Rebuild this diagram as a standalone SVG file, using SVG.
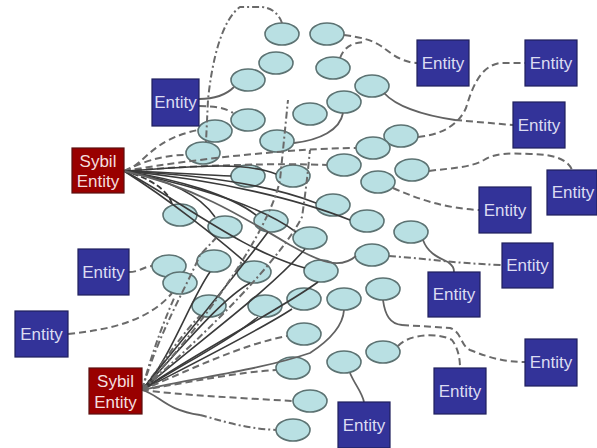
<svg xmlns="http://www.w3.org/2000/svg" width="597" height="448" viewBox="0 0 597 448">
  <style>
    .bg { fill: #ffffff; }
    .peer { fill: #b9e0e3; stroke: #5c7272; stroke-width: 1.6; }
    .ent rect { fill: #333399; stroke: #1f1f5c; stroke-width: 1.2; }
    .syb rect { fill: #990000; stroke: #5a1010; stroke-width: 1.2; }
    .ent text, .syb text { font-family: "Liberation Sans", Arial, sans-serif; font-size: 17px; text-anchor: middle; }
    .ent text { fill: #dcdcf2; }
    .syb text { fill: #f4dede; }
    #links path { fill: none; stroke-linecap: butt; }
    .d { stroke: #6a6a6a; stroke-width: 2; stroke-dasharray: 7 4; }
    .dd { stroke: #6a6a6a; stroke-width: 2; stroke-dasharray: 7 3 2 3; }
    .s { stroke: #626262; stroke-width: 1.8; }
    .k { stroke: #3a3a3a; stroke-width: 1.6; }
    .kd { stroke: #3a3a3a; stroke-width: 1.8; stroke-dasharray: 6 3; }
  </style>
  <rect class="bg" x="0" y="0" width="597" height="448"/>

  <!-- peer nodes -->
  <g id="peers">
    <g id="p1"><ellipse class="peer" cx="282" cy="34" rx="17" ry="11"/></g>
    <g id="p2"><ellipse class="peer" cx="327" cy="34" rx="17" ry="11"/></g>
    <g id="p3"><ellipse class="peer" cx="276" cy="63" rx="17" ry="11"/></g>
    <g id="p4"><ellipse class="peer" cx="333" cy="68" rx="17" ry="11"/></g>
    <g id="p5"><ellipse class="peer" cx="248" cy="80" rx="17" ry="11"/></g>
    <g id="p6"><ellipse class="peer" cx="372" cy="86" rx="17" ry="11"/></g>
    <g id="p7"><ellipse class="peer" cx="344" cy="102" rx="17" ry="11"/></g>
    <g id="p8"><ellipse class="peer" cx="310" cy="114" rx="17" ry="11"/></g>
    <g id="p9"><ellipse class="peer" cx="248" cy="120" rx="17" ry="11"/></g>
    <g id="p10"><ellipse class="peer" cx="215" cy="131" rx="17" ry="11"/></g>
    <g id="p11"><ellipse class="peer" cx="277" cy="141" rx="17" ry="11"/></g>
    <g id="p12"><ellipse class="peer" cx="203" cy="153" rx="17" ry="11"/></g>
    <g id="p13"><ellipse class="peer" cx="401" cy="136" rx="17" ry="11"/></g>
    <g id="p14"><ellipse class="peer" cx="373" cy="148" rx="17" ry="11"/></g>
    <g id="p15"><ellipse class="peer" cx="344" cy="165" rx="17" ry="11"/></g>
    <g id="p16"><ellipse class="peer" cx="412" cy="170" rx="17" ry="11"/></g>
    <g id="p17"><ellipse class="peer" cx="378" cy="182" rx="17" ry="11"/></g>
    <g id="p18"><ellipse class="peer" cx="293" cy="176" rx="17" ry="11"/></g>
    <g id="p19"><ellipse class="peer" cx="248" cy="176" rx="17" ry="11"/></g>
    <g id="p20"><ellipse class="peer" cx="333" cy="205" rx="17" ry="11"/></g>
    <g id="p21"><ellipse class="peer" cx="367" cy="221" rx="17" ry="11"/></g>
    <g id="p22"><ellipse class="peer" cx="271" cy="221" rx="17" ry="11"/></g>
    <g id="p23"><ellipse class="peer" cx="225" cy="227" rx="17" ry="11"/></g>
    <g id="p24"><ellipse class="peer" cx="310" cy="238" rx="17" ry="11"/></g>
    <g id="p25"><ellipse class="peer" cx="372" cy="255" rx="17" ry="11"/></g>
    <g id="p26"><ellipse class="peer" cx="214" cy="261" rx="17" ry="11"/></g>
    <g id="p27"><ellipse class="peer" cx="254" cy="272" rx="17" ry="11"/></g>
    <g id="p28"><ellipse class="peer" cx="321" cy="271" rx="17" ry="11"/></g>
    <g id="p29"><ellipse class="peer" cx="383" cy="289" rx="17" ry="11"/></g>
    <g id="p30"><ellipse class="peer" cx="411" cy="232" rx="17" ry="11"/></g>
    <g id="p31"><ellipse class="peer" cx="180" cy="215" rx="17" ry="11"/></g>
    <g id="p32"><ellipse class="peer" cx="169" cy="266" rx="17" ry="11"/></g>
    <g id="p33"><ellipse class="peer" cx="180" cy="283" rx="17" ry="11"/></g>
    <g id="p34"><ellipse class="peer" cx="209" cy="306" rx="17" ry="11"/></g>
    <g id="p35"><ellipse class="peer" cx="265" cy="306" rx="17" ry="11"/></g>
    <g id="p36"><ellipse class="peer" cx="304" cy="299" rx="17" ry="11"/></g>
    <g id="p37"><ellipse class="peer" cx="344" cy="299" rx="17" ry="11"/></g>
    <g id="p38"><ellipse class="peer" cx="304" cy="334" rx="17" ry="11"/></g>
    <g id="p39"><ellipse class="peer" cx="383" cy="352" rx="17" ry="11"/></g>
    <g id="p40"><ellipse class="peer" cx="344" cy="362" rx="17" ry="11"/></g>
    <g id="p41"><ellipse class="peer" cx="293" cy="368" rx="17" ry="11"/></g>
    <g id="p42"><ellipse class="peer" cx="310" cy="401" rx="17" ry="11"/></g>
    <g id="p43"><ellipse class="peer" cx="293" cy="430" rx="17" ry="11"/></g>
  </g>

  <!-- connectors -->
  <g id="links">
    <!-- upper left entity -->
    <path class="s" d="M199,99 C214,99 226,95 234,87"/>
    <path class="d" d="M199,106 C214,106 226,108 233,113"/>
    <path class="dd" d="M282,23 C279,14 272,8 262,7 L240,7 C222,20 212,60 208,100 L206,142"/>
    <!-- upper right entities -->
    <path class="d" d="M344,35 C360,37 372,40 381,46 C391,53 400,62 417,63"/>
    <path class="d" d="M340,58 C344,48 350,43 364,42"/>
    <path class="s" d="M384,93 C395,105 420,115 455,120"/>
    <path class="d" d="M455,120 L513,125"/>
    <path class="d" d="M418,137 C440,135 458,126 466,108 C472,88 480,66 500,63 L525,63"/>
    <path class="s" d="M343,113 C340,130 320,140 294,143"/>
    <path class="d" d="M429,171 C450,168 470,168 484,160 C495,153 510,153 530,154 C555,154 568,160 572,170"/>
    <path class="d" d="M393,188 C420,200 445,208 479,210"/>
    <path class="s" d="M423,240 C428,254 440,258 448,262 C453,266 454,268 454,272"/>
    <path class="dd" d="M389,256 C420,258 450,263 502,265"/>
    <path class="s" d="M383,300 C385,315 390,324 402,325"/>
    <path class="d" d="M402,325 L450,328 C462,332 460,345 470,350 C490,358 505,362 525,362"/>
    <path class="d" d="M398,346 C410,333 440,333 452,340 C458,348 460,358 460,368"/>
    <path class="s" d="M350,373 C355,385 362,392 364,402"/>
    <!-- left entities -->
    <path class="d" d="M129,272 C140,272 145,266 152,266"/>
    <path class="d" d="M68,334 C110,330 150,320 172,293"/>

    <!-- upper sybil entity fan -->
    <path class="d" d="M124,171 C145,165 150,140 198,130"/>
    <path class="d" d="M124,171 C150,158 170,155 186,155"/>
    <path class="d" d="M124,171 C200,158 300,148 356,148"/>
    <path class="d" d="M124,171 C200,165 280,163 327,165"/>
    <path class="k" d="M124,171 C180,168 240,160 276,174"/>
    <path class="k" d="M124,171 C170,172 200,175 231,176"/>
    <path class="k" d="M124,171 C200,175 270,185 316,203"/>
    <path class="k" d="M124,171 C180,180 230,195 256,215"/>
    <path class="k" d="M124,171 C190,185 260,205 296,232"/>
    <path class="k" d="M124,171 C170,180 200,195 215,217"/>
    <path class="kd" d="M124,171 C150,178 168,190 172,204"/>
    <path class="k" d="M124,171 C180,200 240,250 305,268"/>
    <path class="k" d="M124,171 C170,200 220,240 245,262"/>
    <path class="k" d="M124,171 C220,180 300,200 350,220"/>
    <path class="s" d="M124,171 C190,185 240,215 290,245 C320,262 340,270 356,256"/>

    <!-- lower sybil entity fan -->
    <path class="k" d="M142,390 C170,360 190,300 210,272"/>
    <path class="dd" d="M142,390 C165,360 185,330 200,316"/>
    <path class="k" d="M142,390 C190,360 230,340 258,317"/>
    <path class="k" d="M142,390 C180,350 220,300 250,283"/>
    <path class="k" d="M142,390 C200,340 270,290 305,249"/>
    <path class="k" d="M142,390 C200,350 280,310 318,282"/>
    <path class="k" d="M142,390 C190,330 240,270 268,232"/>
    <path class="k" d="M142,390 C200,360 260,330 292,309"/>
    <path class="s" d="M142,390 C200,377 260,370 310,353 C330,340 343,325 344,310"/>
    <path class="d" d="M142,390 C190,370 240,345 287,336"/>
    <path class="d" d="M142,390 C190,382 240,372 276,370"/>
    <path class="d" d="M142,390 C180,395 240,398 293,401"/>
    <path class="s" d="M142,390 C160,395 165,410 200,415"/>
    <path class="dd" d="M200,415 C220,420 240,428 276,430"/>
    <path class="dd" d="M142,390 C150,360 160,330 175,296"/>
    <path class="dd" d="M142,390 C160,330 185,290 200,255 L216,238"/>
    <path class="dd" d="M142,390 C200,330 270,230 280,180 L288,100"/>
    <path class="dd" d="M142,390 C210,330 280,260 302,217 C306,190 308,170 310,150"/>
  </g>

  <!-- entities -->
  <g id="entity-1" class="ent"><rect x="152" y="79" width="47" height="47"/><text x="175.5" y="108">Entity</text></g>
  <g id="entity-2" class="ent"><rect x="417" y="40" width="52" height="46"/><text x="443" y="69">Entity</text></g>
  <g id="entity-3" class="ent"><rect x="525" y="40" width="52" height="46"/><text x="551" y="69">Entity</text></g>
  <g id="entity-4" class="ent"><rect x="513" y="102" width="52" height="46"/><text x="539" y="131">Entity</text></g>
  <g id="entity-5" class="ent"><rect x="547" y="170" width="50" height="45"/><text x="573" y="198">Entity</text></g>
  <g id="entity-6" class="ent"><rect x="479" y="187" width="52" height="46"/><text x="505" y="216">Entity</text></g>
  <g id="entity-7" class="ent"><rect x="502" y="243" width="51" height="45"/><text x="527.5" y="271">Entity</text></g>
  <g id="entity-8" class="ent"><rect x="428" y="272" width="52" height="45"/><text x="454" y="300">Entity</text></g>
  <g id="entity-9" class="ent"><rect x="78" y="249" width="51" height="46"/><text x="103.5" y="278">Entity</text></g>
  <g id="entity-10" class="ent"><rect x="525" y="339" width="52" height="47"/><text x="551" y="368">Entity</text></g>
  <g id="entity-11" class="ent"><rect x="434" y="368" width="52" height="46"/><text x="460" y="397">Entity</text></g>
  <g id="entity-12" class="ent"><rect x="338" y="402" width="52" height="46"/><text x="364" y="431">Entity</text></g>
  <g id="entity-13" class="ent"><rect x="15" y="311" width="53" height="46"/><text x="41.5" y="340">Entity</text></g>

  <!-- sybil entities -->
  <g id="sybil-1" class="syb"><rect x="72" y="148" width="52" height="45"/><text x="98" y="167">Sybil</text><text x="98" y="187">Entity</text></g>
  <g id="sybil-2" class="syb"><rect x="89" y="368" width="53" height="46"/><text x="115.5" y="387">Sybil</text><text x="115.5" y="408">Entity</text></g>
</svg>
